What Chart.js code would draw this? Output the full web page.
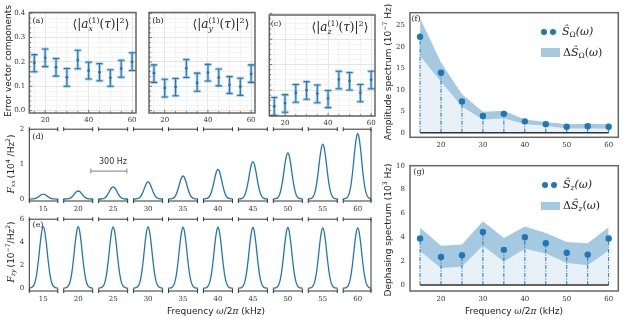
<!DOCTYPE html>
<html>
<head>
<meta charset="utf-8">
<script src="https://cdn.jsdelivr.net/npm/chart.js@4.4.0/dist/chart.umd.min.js"></script>
<style>
  body { margin: 0; width: 638px; height: 319px; background: #fff; position: relative; overflow: hidden; }
  canvas { position: absolute; }
  .t { position: absolute; white-space: nowrap; line-height: 1; color: #222; }
  .serif { font-family: "DejaVu Serif", serif; }
  .sans { font-family: "DejaVu Sans", sans-serif; }
  .it { font-style: italic; }
  .up { font-style: normal; }
  .rot { transform: translate(-50%, -50%) rotate(-90deg); }
  .ctr { transform: translate(-50%, -50%); }
  sub, sup { font-size: 68%; line-height: 0; }
  sub { vertical-align: -0.3em; }
  sup { vertical-align: 0.6em; }
  .ss { display: inline-block; vertical-align: -0.45em; font-size: 65%; line-height: 1.05; text-align: left; }
  .ss span { display: block; }
  .dot { position: absolute; width: 6px; height: 6px; border-radius: 50%; background: #1f77b4; }
  .box { position: absolute; background: rgba(31,119,180,0.4); }
</style>
</head>
<body>
<canvas id="chartA" style="left:0px;top:0px" width="140" height="130"></canvas>
<canvas id="chartB" style="left:140px;top:0px" width="120" height="130"></canvas>
<canvas id="chartC" style="left:260px;top:0px" width="120" height="130"></canvas>
<canvas id="chartD" style="left:0px;top:120px" width="380" height="100"></canvas>
<canvas id="chartE" style="left:0px;top:210px" width="380" height="109"></canvas>
<canvas id="chartF" style="left:380px;top:0px" width="258" height="150"></canvas>
<canvas id="chartG" style="left:380px;top:155px" width="258" height="164"></canvas>

<!-- axis titles -->
<div class="t sans rot" style="left:8px;top:61px;font-size:9px">Error vector components</div>
<div class="t rot" style="left:11px;top:164px;font-size:9px"><span class="serif it">F<sub>xx</sub></span> <span class="sans">(10<sup>4</sup> /Hz<sup>2</sup>)</span></div>
<div class="t rot" style="left:11px;top:252px;font-size:9px"><span class="serif it">F<sub>zy</sub></span> <span class="sans">(10<sup>−7</sup>/Hz<sup>2</sup>)</span></div>
<div class="t sans ctr" style="left:216px;top:311px;font-size:9px">Frequency <span class="serif it">ω</span>/2<span class="serif it">π</span> (kHz)</div>
<div class="t sans ctr" style="left:514px;top:311px;font-size:9px">Frequency <span class="serif it">ω</span>/2<span class="serif it">π</span> (kHz)</div>
<div class="t sans rot" style="left:388px;top:72px;font-size:9px">Amplitude spectrum (10<sup>−7</sup> Hz)</div>
<div class="t sans rot" style="left:388px;top:230px;font-size:9px">Dephasing spectrum (10<sup>3</sup> Hz)</div>
<div class="t sans ctr" style="left:113px;top:162px;font-size:8px;color:#333">300 Hz</div>

<!-- panel letters -->
<div class="t serif ctr" style="left:38px;top:21px;font-size:8px">(a)</div>
<div class="t serif ctr" style="left:158px;top:21px;font-size:8px">(b)</div>
<div class="t serif ctr" style="left:276px;top:24px;font-size:8px">(c)</div>
<div class="t serif ctr" style="left:38px;top:137px;font-size:8px">(d)</div>
<div class="t serif ctr" style="left:38px;top:225px;font-size:8px">(e)</div>
<div class="t serif ctr" style="left:416px;top:19px;font-size:8px">(f)</div>
<div class="t serif ctr" style="left:419px;top:172px;font-size:8px">(g)</div>

<!-- panel titles -->
<div class="t serif ctr" style="left:101px;top:25px;font-size:12px">⟨|<span class="it">a</span><span class="ss"><span>(1)</span><span class="it">x</span></span>(<span class="it">τ</span>)|<sup>2</sup>⟩</div>
<div class="t serif ctr" style="left:221px;top:25px;font-size:12px">⟨|<span class="it">a</span><span class="ss"><span>(1)</span><span class="it">y</span></span>(<span class="it">τ</span>)|<sup>2</sup>⟩</div>
<div class="t serif ctr" style="left:340px;top:28px;font-size:12px">⟨|<span class="it">a</span><span class="ss"><span>(1)</span><span class="it">z</span></span>(<span class="it">τ</span>)|<sup>2</sup>⟩</div>

<!-- legends f / g -->
<div class="dot" style="left:541px;top:29px"></div>
<div class="dot" style="left:550px;top:29px"></div>
<div class="t serif it" style="left:562px;top:26px;font-size:11px">Ŝ<sub class="up">Ω</sub>(ω)</div>
<div class="box" style="left:541px;top:48px;width:19px;height:9px"></div>
<div class="t serif" style="left:563px;top:47px;font-size:11px">Δ<span class="it">Ŝ</span><sub>Ω</sub>(<span class="it">ω</span>)</div>

<div class="dot" style="left:542px;top:182px"></div>
<div class="dot" style="left:551px;top:182px"></div>
<div class="t serif it" style="left:563px;top:179px;font-size:11px">Ŝ<sub>z</sub>(ω)</div>
<div class="box" style="left:541px;top:202px;width:19px;height:8px"></div>
<div class="t serif" style="left:563px;top:200px;font-size:11px">Δ<span class="it">Ŝ</span><sub class="it">z</sub>(<span class="it">ω</span>)</div>

<script>
// ---- data ----
const freqs = [15, 20, 25, 30, 35, 40, 45, 50, 55, 60];

// error vector components (a), (b), (c)
const axMean = [0.196, 0.217, 0.178, 0.137, 0.208, 0.165, 0.158, 0.135, 0.173, 0.200];
const axLow  = [0.160, 0.181, 0.142, 0.100, 0.172, 0.130, 0.123, 0.100, 0.137, 0.165];
const axHigh = [0.230, 0.253, 0.214, 0.173, 0.248, 0.199, 0.193, 0.168, 0.207, 0.238];
const ayMean = [0.154, 0.093, 0.097, 0.174, 0.114, 0.156, 0.136, 0.106, 0.099, 0.151];
const ayLow  = [0.116, 0.056, 0.061, 0.136, 0.080, 0.122, 0.102, 0.071, 0.063, 0.116];
const ayHigh = [0.188, 0.129, 0.132, 0.210, 0.154, 0.190, 0.171, 0.140, 0.133, 0.188];
const azMean = [0.036, 0.049, 0.089, 0.100, 0.086, 0.067, 0.141, 0.136, 0.089, 0.140];
const azLow  = [0.001, 0.013, 0.052, 0.064, 0.050, 0.031, 0.105, 0.100, 0.054, 0.105];
const azHigh = [0.071, 0.082, 0.122, 0.133, 0.120, 0.098, 0.174, 0.169, 0.122, 0.174];
const errXLabels = [20, 40, 60];
const errYLabels = [0, 0.1, 0.2, 0.3, 0.4];

// filter functions (d), (e): peak heights + peak shape (offset in Hz, relative height)
const fxxPeak = [0.14, 0.23, 0.35, 0.49, 0.66, 0.85, 1.07, 1.32, 1.57, 1.87];
const fzyPeak = [5.35, 5.35, 5.33, 5.33, 5.30, 5.30, 5.28, 5.28, 5.25, 5.25];
const peakOffsetHz = [-125, -90, -70, -55, -40, -25, -12, 0, 12, 25, 40, 55, 70, 90, 125];
const peakShape    = [0, 0.02, 0.09, 0.23, 0.46, 0.74, 0.93, 1, 0.93, 0.74, 0.46, 0.23, 0.09, 0.02, 0];
const pitchHz = 291;            // width of one broken-axis slot in Hz
const fxxYLabels = [0, 1, 2];
const fzyYLabels = [0, 2, 4, 6];

// spectra (f), (g)
const sOmega     = [22.4, 14.0, 7.3, 3.9, 4.4, 2.65, 2.0, 1.4, 1.5, 1.4];
const sOmegaLow  = [17.9, 11.9, 6.1, 3.0, 3.4, 2.0, 1.6, 1.0, 1.0, 0.95];
const sOmegaHigh = [26.7, 16.4, 9.0, 4.9, 5.1, 3.1, 2.5, 2.0, 2.1, 2.0];
const sZ     = [3.9, 2.35, 2.5, 4.45, 2.95, 4.0, 3.5, 2.7, 2.55, 3.9];
const sZLow  = [2.85, 1.4, 1.55, 3.3, 1.95, 3.05, 2.65, 1.85, 1.65, 2.9];
const sZHigh = [4.8, 3.3, 3.4, 5.35, 3.95, 4.9, 4.35, 3.6, 3.5, 4.85];
const specXLabels = [20, 30, 40, 50, 60];
const sOmegaYLabels = [0, 5, 10, 15, 20, 25];
const sZYLabels = [0, 2, 4, 6, 8, 10];

// ---- style ----
const BLUE = '#1f77b4';
const TICK_FONT = { family: "'DejaVu Serif', serif", size: 7 };
Chart.defaults.font.family = "'DejaVu Serif', serif";
Chart.defaults.color = '#333';

const pts = (xs, ys) => xs.map((x, i) => ({ x: x, y: ys[i] }));
const isMult = (v, s) => Math.abs(v / s - Math.round(v / s)) < 1e-6;
const NO_GRID = { display: false, drawTicks: false };

// frame around chart area
const framePlugin = {
  id: 'frame',
  afterDraw(chart, args, opts) {
    if (!opts.color) return;
    const { ctx, chartArea: a } = chart;
    ctx.save();
    ctx.strokeStyle = opts.color;
    ctx.lineWidth = opts.width;
    ctx.strokeRect(a.left, a.top, a.right - a.left, a.bottom - a.top);
    ctx.restore();
  }
};

// inward tick marks on left and bottom
const innerTicks = {
  id: 'innerTicks',
  afterDraw(chart, args, opts) {
    if (!opts.on) return;
    const { ctx, chartArea: a, scales: { x, y } } = chart;
    ctx.save();
    ctx.strokeStyle = '#555';
    ctx.lineWidth = 0.8;
    y.ticks.forEach(t => {
      const py = y.getPixelForValue(t.value);
      const len = isMult(t.value, 0.1) ? 3 : 1.8;
      ctx.beginPath(); ctx.moveTo(a.left, py); ctx.lineTo(a.left + len, py); ctx.stroke();
    });
    x.ticks.forEach(t => {
      const px = x.getPixelForValue(t.value);
      const len = errXLabels.includes(t.value) ? 3 : 1.8;
      ctx.beginPath(); ctx.moveTo(px, a.bottom); ctx.lineTo(px, a.bottom - len); ctx.stroke();
    });
    ctx.restore();
  }
};

// error bars
const errorBars = {
  id: 'errorBars',
  beforeDatasetsDraw(chart, args, opts) {
    if (!opts.low) return;
    const { ctx, scales: { x, y } } = chart;
    ctx.save();
    const pass = (color, w) => {
      ctx.strokeStyle = color; ctx.lineWidth = w; ctx.lineCap = 'round';
      freqs.forEach((f, i) => {
        const px = x.getPixelForValue(f);
        const p1 = y.getPixelForValue(opts.low[i]);
        const p2 = y.getPixelForValue(opts.high[i]);
        ctx.beginPath();
        ctx.moveTo(px, p1); ctx.lineTo(px, p2);
        ctx.moveTo(px - 2.6, p1); ctx.lineTo(px + 2.6, p1);
        ctx.moveTo(px - 2.6, p2); ctx.lineTo(px + 2.6, p2);
        ctx.stroke();
      });
    };
    pass('rgba(31,119,180,0.35)', 3);
    pass(BLUE, 1.1);
    ctx.restore();
  }
};

// broken axis for (d), (e)
const brokenAxis = {
  id: 'brokenAxis',
  afterDraw(chart, args, opts) {
    if (!opts.on) return;
    const { ctx, chartArea: a, scales: { x, y } } = chart;
    ctx.save();
    ctx.strokeStyle = '#333';
    ctx.lineWidth = 1;
    ctx.beginPath();
    ctx.moveTo(a.left, a.top); ctx.lineTo(a.left, a.bottom);
    ctx.moveTo(a.right, a.top); ctx.lineTo(a.right, a.bottom);
    ctx.stroke();
    const half = 0.415;
    freqs.forEach((f, i) => {
      const x1 = Math.max(a.left, x.getPixelForValue(i - half));
      const x2 = Math.min(a.right, x.getPixelForValue(i + half));
      [a.top, a.bottom].forEach(py => {
        ctx.beginPath();
        ctx.moveTo(x1, py); ctx.lineTo(x2, py);
        ctx.moveTo(x1, py - 2); ctx.lineTo(x1, py + 2);
        ctx.moveTo(x2, py - 2); ctx.lineTo(x2, py + 2);
        ctx.stroke();
      });
    });
    if (opts.scaleBar) {
      const s = opts.scaleBar;
      const x1 = x.getPixelForValue(s.x), x2 = x.getPixelForValue(s.x + s.hz / pitchHz);
      const py = y.getPixelForValue(s.y);
      ctx.strokeStyle = '#999';
      ctx.lineWidth = 1.2;
      ctx.beginPath();
      ctx.moveTo(x1, py); ctx.lineTo(x2, py);
      ctx.moveTo(x1, py - 2.5); ctx.lineTo(x1, py + 2.5);
      ctx.moveTo(x2, py - 2.5); ctx.lineTo(x2, py + 2.5);
      ctx.stroke();
    }
    ctx.restore();
  }
};

// stems + zero baseline for (f), (g)
const stems = {
  id: 'stems',
  afterDatasetsDraw(chart, args, opts) {
    if (!opts.values) return;
    const { ctx, scales: { x, y } } = chart;
    ctx.save();
    ctx.strokeStyle = BLUE;
    ctx.lineWidth = 1;
    ctx.setLineDash([4, 1.5, 1, 1.5]);
    const y0 = y.getPixelForValue(0);
    freqs.forEach((f, i) => {
      const px = x.getPixelForValue(f);
      ctx.beginPath(); ctx.moveTo(px, y0); ctx.lineTo(px, y.getPixelForValue(opts.values[i])); ctx.stroke();
    });
    ctx.setLineDash([]);
    ctx.strokeStyle = '#333';
    ctx.lineWidth = 1.5;
    ctx.beginPath();
    ctx.moveTo(x.getPixelForValue(freqs[0]), y0);
    ctx.lineTo(x.getPixelForValue(freqs[freqs.length - 1]), y0);
    ctx.stroke();
    ctx.restore();
  }
};

Chart.register(framePlugin, innerTicks, errorBars, brokenAxis, stems);

// ---- (a), (b), (c) ----
function errChart(id, mean, low, high, box) {
  new Chart(document.getElementById(id), {
    type: 'scatter',
    data: { datasets: [{ data: pts(freqs, mean), pointRadius: 1.4, pointBackgroundColor: BLUE, pointBorderWidth: 0 }] },
    options: {
      responsive: false, animation: false, devicePixelRatio: 1,
      layout: { padding: { left: 0, top: box.top, right: box.right, bottom: 0 } },
      plugins: {
        legend: { display: false }, tooltip: { enabled: false },
        frame: { color: '#666', width: 1.5 },
        innerTicks: { on: true },
        errorBars: { low: low, high: high }
      },
      scales: {
        x: {
          type: 'linear', min: 12.7, max: 61.8,
          afterBuildTicks: ax => { ax.ticks = []; for (let v = 15; v <= 60; v += 5) ax.ticks.push({ value: v }); },
          afterFit: s => { s.height = box.xh; },
          ticks: { callback: v => errXLabels.includes(v) ? String(v) : '', autoSkip: false, maxRotation: 0, padding: 3, font: TICK_FONT },
          grid: { drawTicks: false, color: c => errXLabels.includes(c.tick.value) ? '#dedede' : '#f0f0f0', lineWidth: 0.8 },
          border: { display: false }
        },
        y: {
          min: box.ymin, max: box.ymax,
          afterBuildTicks: ax => { ax.ticks = []; for (let k = 0; k <= 20; k++) ax.ticks.push({ value: k * 0.02 }); },
          afterFit: s => { s.width = box.yw; },
          ticks: {
            display: box.yLabels,
            callback: v => errYLabels.some(l => Math.abs(l - v) < 1e-6) ? v.toFixed(1) : '',
            autoSkip: false, padding: 4, font: TICK_FONT
          },
          grid: { drawTicks: false, color: c => isMult(c.tick.value, 0.1) ? '#dedede' : '#f3f3f3', lineWidth: 0.8 },
          border: { display: false }
        }
      }
    }
  });
}
errChart('chartA', axMean, axLow, axHigh, { top: 12.5, right: 4, xh: 17, yw: 29.3, ymin: -0.0095, ymax: 0.403, yLabels: true });
errChart('chartB', ayMean, ayLow, ayHigh, { top: 12.5, right: 5, xh: 17, yw: 9, ymin: -0.0095, ymax: 0.403, yLabels: false });
errChart('chartC', azMean, azLow, azHigh, { top: 15, right: 5, xh: 14, yw: 9.3, ymin: -0.002, ymax: 0.395, yLabels: false });

// ---- (d), (e) ----
function peakChart(id, heights, yLabels, box, scaleBar) {
  const datasets = freqs.map((f, i) => ({
    data: peakOffsetHz.map((hz, j) => ({ x: i + hz / pitchHz, y: heights[i] * peakShape[j] })),
    showLine: true, borderColor: BLUE, borderWidth: 1.3, pointRadius: 0,
    cubicInterpolationMode: 'monotone', fill: false
  }));
  new Chart(document.getElementById(id), {
    type: 'scatter',
    data: { datasets: datasets },
    options: {
      responsive: false, animation: false, devicePixelRatio: 1,
      layout: { padding: { left: 0, top: box.top, right: 9, bottom: 0 } },
      plugins: {
        legend: { display: false }, tooltip: { enabled: false },
        brokenAxis: { on: true, scaleBar: scaleBar }
      },
      scales: {
        x: {
          type: 'linear', min: -0.4, max: 9.38,
          afterBuildTicks: ax => { ax.ticks = freqs.map((f, i) => ({ value: i })); },
          afterFit: s => { s.height = box.xh; },
          ticks: { callback: v => String(freqs[v]), autoSkip: false, maxRotation: 0, padding: 4, font: TICK_FONT },
          grid: NO_GRID, border: { display: false }
        },
        y: {
          min: box.ymin, max: box.ymax,
          afterBuildTicks: ax => { ax.ticks = yLabels.map(v => ({ value: v })); },
          afterFit: s => { s.width = 29.3; },
          ticks: { padding: 5, font: TICK_FONT },
          grid: NO_GRID, border: { display: false }
        }
      }
    }
  });
}
peakChart('chartD', fxxPeak, fxxYLabels, { top: 8.3, xh: 19, ymin: -0.056, ymax: 2 }, { x: 1.36, y: 0.8, hz: 300 });
peakChart('chartE', fzyPeak, fzyYLabels, { top: 7.3, xh: 28, ymin: -0.23, ymax: 6 }, null);

// ---- (f), (g) ----
function specChart(id, vals, low, high, yLabels, box) {
  new Chart(document.getElementById(id), {
    type: 'scatter',
    data: {
      datasets: [
        { data: pts(freqs, vals), pointRadius: 3.2, pointBackgroundColor: BLUE, pointBorderWidth: 0, showLine: false },
        { data: pts(freqs, high), showLine: true, borderWidth: 0, pointRadius: 0, fill: '+1', backgroundColor: 'rgba(31,119,180,0.4)', tension: 0 },
        { data: pts(freqs, low), showLine: true, borderWidth: 0, pointRadius: 0, fill: 'origin', backgroundColor: 'rgba(31,119,180,0.1)', tension: 0 }
      ]
    },
    options: {
      responsive: false, animation: false, devicePixelRatio: 1,
      layout: { padding: { left: 0, top: box.top, right: 19.7, bottom: 0 } },
      plugins: {
        legend: { display: false }, tooltip: { enabled: false },
        frame: { color: '#666', width: 1.5 },
        stems: { values: vals }
      },
      scales: {
        x: {
          type: 'linear', min: 12.6, max: 62.3,
          afterBuildTicks: ax => { ax.ticks = specXLabels.map(v => ({ value: v })); },
          afterFit: s => { s.height = box.xh; },
          ticks: { autoSkip: false, maxRotation: 0, padding: 4, font: TICK_FONT },
          grid: NO_GRID, border: { display: false }
        },
        y: {
          min: box.ymin, max: box.ymax,
          afterBuildTicks: ax => { ax.ticks = yLabels.map(v => ({ value: v })); },
          afterFit: s => { s.width = 30; },
          ticks: { padding: 5, font: TICK_FONT },
          grid: NO_GRID, border: { display: false }
        }
      }
    }
  });
}
specChart('chartF', sOmega, sOmegaLow, sOmegaHigh, sOmegaYLabels, { top: 12.7, xh: 12.7, ymin: -1.07, ymax: 28 });
specChart('chartG', sZ, sZLow, sZHigh, sZYLabels, { top: 10.7, xh: 28, ymin: -0.5, ymax: 10 });
</script>
</body>
</html>
